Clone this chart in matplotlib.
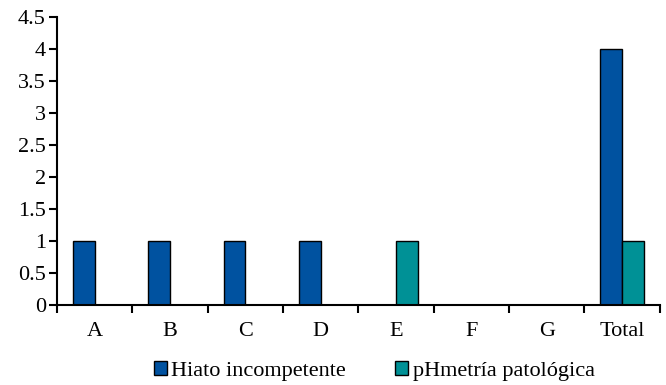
import matplotlib
matplotlib.use("Agg")
import matplotlib.pyplot as plt
import numpy as np

categories = ["A", "B", "C", "D", "E", "F", "G", "Total"]
hiato = [1, 1, 1, 1, 0, 0, 0, 4]
phmetria = [0, 0, 0, 0, 1, 0, 0, 1]
series_names = ["Hiato incompetente", "pHmetría patológica"]
yticks = [0, 0.5, 1, 1.5, 2, 2.5, 3, 3.5, 4, 4.5]

FONT = "Liberation Serif"
plt.rcParams["font.family"] = FONT
plt.rcParams["font.size"] = 16

fig = plt.figure(figsize=(6.66, 3.85), dpi=100)
ax = fig.add_axes([0.0856, 0.208, 0.905, 0.748])

x = np.arange(len(categories))
w = 0.29
ax.bar(x - w / 2, hiato, w, color="#0052A0", edgecolor="black", linewidth=1.0,
       label=series_names[0])
ax.bar(x + w / 2, phmetria, w, color="#009196", edgecolor="black", linewidth=1.0,
       label=series_names[1])

ax.set_xlim(-0.5, len(categories) - 0.5)
ax.set_ylim(0, 4.5)
ax.set_yticks(yticks)
ax.set_yticklabels([f"{v:g}" for v in yticks])

# category boundaries carry the tick marks, names sit between them
ax.set_xticks(np.arange(len(categories) + 1) - 0.5)
ax.set_xticklabels([])
ax.set_xticks(x, minor=True)
ax.set_xticklabels(categories, minor=True)
ax.tick_params(axis="x", which="minor", length=0, pad=12)
ax.tick_params(axis="x", which="major", length=6, width=1.5, direction="out")
ax.tick_params(axis="y", length=6, width=1.5, direction="out", pad=2)

for lab in ax.get_yticklabels() + ax.get_xticklabels(minor=True):
    lab.set_fontfamily(FONT)
    lab.set_fontsize(16)

for s in ("top", "right"):
    ax.spines[s].set_visible(False)
for s in ("left", "bottom"):
    ax.spines[s].set_linewidth(1.5)

leg = fig.legend(loc="center", bbox_to_anchor=(0.562, 0.036), ncol=2, frameon=False,
                 handlelength=0.6, handleheight=0.6, handletextpad=0.2,
                 columnspacing=2.2, borderpad=0.1)
for t in leg.get_texts():
    t.set_fontfamily(FONT)
    t.set_fontsize(16)

fig.savefig("out.png", dpi=100)
